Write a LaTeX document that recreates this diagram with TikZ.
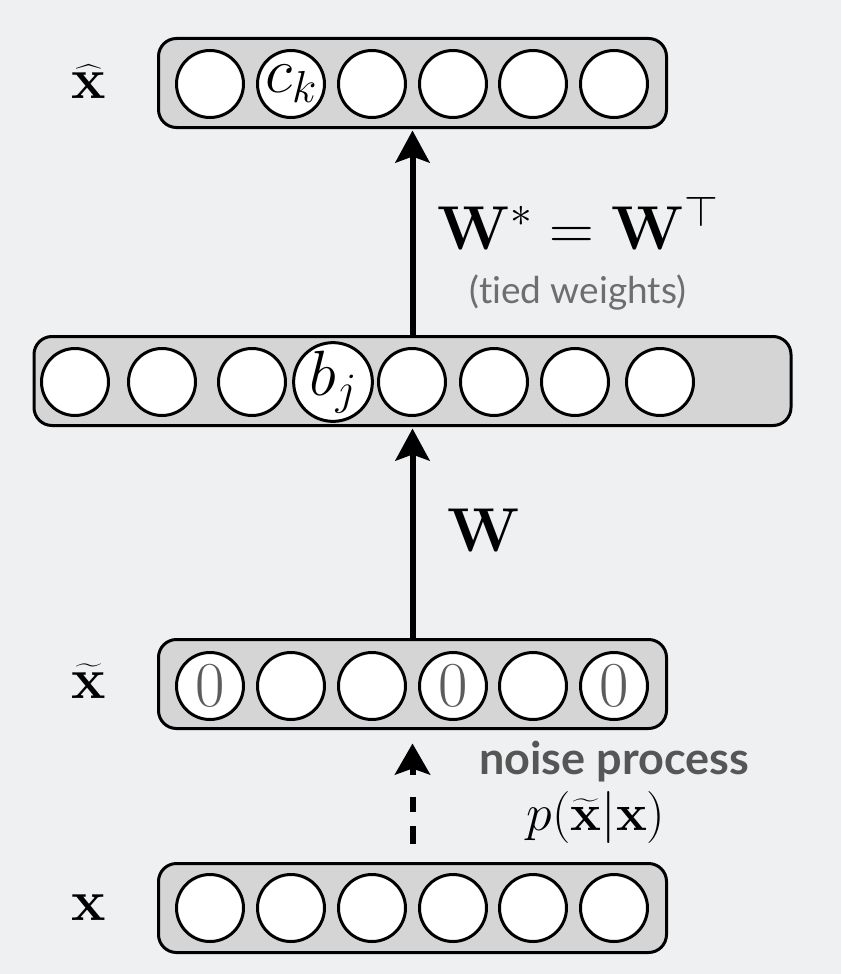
\RequirePackage{fix-cm}
\documentclass[tikz,border=0pt]{standalone}
\usepackage{amsmath}
\usepackage[no-math]{fontspec}
\newfontfamily\labelsans[Ligatures=NoCommon]{Lato}
\usetikzlibrary{arrows.meta}

\definecolor{bgcol}{HTML}{EEF0F2}
\definecolor{layerfill}{HTML}{D5D5D5}
\definecolor{notegray}{HTML}{6E6E6E}
\definecolor{noisegray}{HTML}{565656}
\definecolor{zerogray}{HTML}{5C5C5C}

\tikzset{
  layer/.style={draw=black, line width=3pt, fill=layerfill,
    rounded corners=18pt, inner sep=0pt, minimum height=89pt},
  unit/.style={circle, draw=black, line width=3pt, fill=white,
    minimum size=67pt, inner sep=0pt, font=\fontsize{64}{66}\selectfont},
  feed/.style={line width=6pt, shorten >=1.5pt,
    -{Stealth[length=32pt, width=34pt, inset=6pt]}},
  noiseline/.style={line width=6pt, dash pattern=on 18pt off 14pt},
  noisetip/.style={line width=6pt,
    -{Stealth[length=31pt, width=35pt, inset=6pt]}},
  vecname/.style={anchor=base, font=\fontsize{58}{62}\selectfont},
  bigmath/.style={font=\fontsize{62}{66}\selectfont},
}

\begin{document}
\begin{tikzpicture}[x=1pt, y=-1pt]
  % page background
  \fill[bgcol] (0,0) rectangle (841,974);
  \useasboundingbox (0,0) rectangle (841,974);

  % layers (rounded bars)
  \node[layer, minimum width=508pt] (xhat)  at (412.5,83)  {};
  \node[layer, minimum width=757pt] (hid)   at (412.5,381) {};
  \node[layer, minimum width=508pt] (xtil)  at (412.5,684) {};
  \node[layer, minimum width=508pt] (xin)   at (412.5,908) {};

  % units of the reconstruction layer
  \foreach \cx/\txt [count=\i] in {210/{},291/{$c_k$},372/{},453/{},533/{},614/{}}
    \node[unit] (xhat-\i) at (\cx,84) {\txt};

  % hidden units
  \foreach \cx/\txt [count=\i] in {75/{},162/{},252/{},333/{$b_j$},412/{},494/{},575/{},660/{}}
    \node[unit] (hid-\i) at (\cx,382) {\txt};

  % corrupted input units
  \foreach \cx/\txt [count=\i] in {210/{\textcolor{zerogray}{0}},291/{},372/{},453/{\textcolor{zerogray}{0}},533/{},614/{\textcolor{zerogray}{0}}}
    \node[unit] (xtil-\i) at (\cx,686) {\txt};

  % input units
  \foreach \cx [count=\i] in {210,291,372,453,533,614}
    \node[unit] (xin-\i) at (\cx,908) {};

  % layer names
  \node[vecname] (lhat) at (89,99)  {$\widehat{\mathbf{x}}$};
  \node[vecname] (ltil) at (89,698) {$\widetilde{\mathbf{x}}$};
  \node[vecname] (lin)  at (89,920) {$\mathbf{x}$};

  % encoder and decoder weights
  \draw[feed] (hid.north) -- (xhat.south);
  \draw[feed] (xtil.north) -- (hid.south);

  \node[bigmath, anchor=base west] (deceq) at (434,249)
    {$\mathbf{W}^{*}=\mathbf{W}^{\top}$};
  \node[anchor=base, text=notegray,
        font=\labelsans\fontsize{37}{40}\selectfont] (tied) at (578,303)
    {(tied weights)};
  \node[bigmath, anchor=base west] (enceq) at (444,551) {$\mathbf{W}$};

  % corruption step
  \draw[noiseline] ([yshift=18.5pt]xin.north) -- ([yshift=-66.5pt]xtil.south);
  \draw[noisetip] ([yshift=-44.5pt]xtil.south) -- ([yshift=-13.5pt]xtil.south);

  \node[anchor=base, text=noisegray,
        font=\labelsans\bfseries\fontsize{45}{48}\selectfont] (noise) at (614,774)
    {noise process};
  \node[anchor=base, font=\fontsize{52}{56}\selectfont] (pnoise) at (596,830)
    {$p(\widetilde{\mathbf{x}}|\mathbf{x})$};
\end{tikzpicture}
\end{document}
